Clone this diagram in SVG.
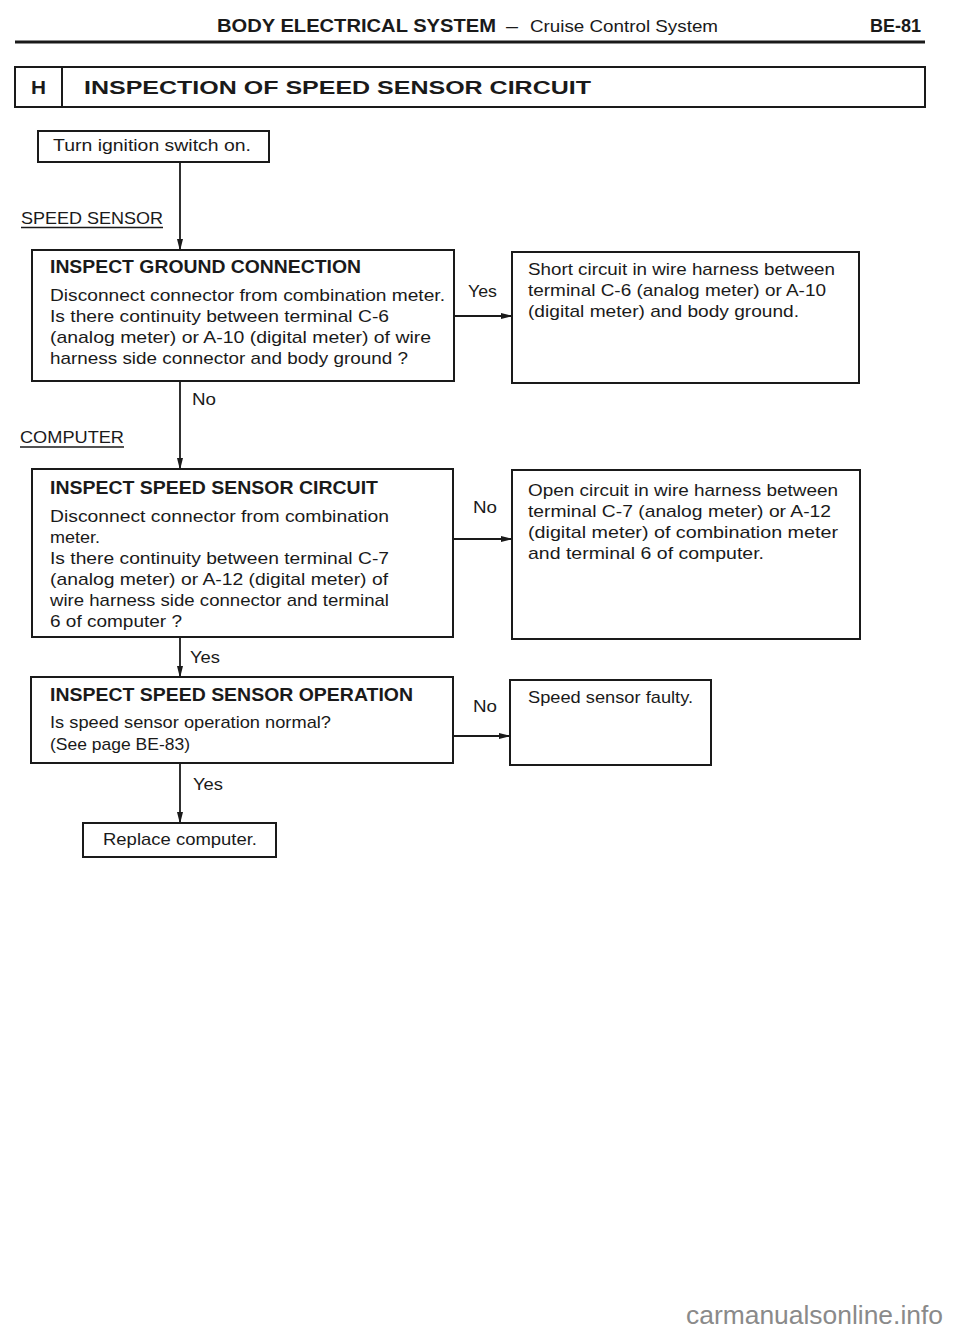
<svg xmlns="http://www.w3.org/2000/svg" width="960" height="1339" viewBox="0 0 960 1339">
<defs>
<marker id="ah" markerWidth="12" markerHeight="8" refX="11" refY="4" orient="auto" markerUnits="userSpaceOnUse">
<path d="M0,1 L12,4 L0,7 Z" fill="#1a1a1a"/>
</marker>
<style>
.box{fill:#fff;stroke:#1a1a1a;stroke-width:2}
.t{font-family:"Liberation Sans",Arial,sans-serif;font-size:17px;fill:#1a1a1a}
.b{font-family:"Liberation Sans",Arial,sans-serif;font-size:18px;font-weight:bold;fill:#1a1a1a}
.lbl{font-family:"Liberation Sans",Arial,sans-serif;font-size:17px;fill:#1a1a1a}
.conn{stroke:#1a1a1a;stroke-width:1.8;fill:none}
</style>
</defs>
<rect width="960" height="1339" fill="#fff"/>

<g id="header">
<text x="217" y="32" class="b" font-size="19" textLength="279" lengthAdjust="spacingAndGlyphs">BODY ELECTRICAL SYSTEM</text>
<text x="506" y="32" class="t" font-size="19" textLength="12" lengthAdjust="spacingAndGlyphs">–</text>
<text x="530" y="32" class="t" font-size="19" textLength="188" lengthAdjust="spacingAndGlyphs">Cruise Control System</text>
<text x="870" y="32" class="b" font-size="19" textLength="51" lengthAdjust="spacingAndGlyphs">BE-81</text>
<line x1="15" y1="42" x2="925" y2="42" stroke="#1a1a1a" stroke-width="3"/>
</g>

<g id="title">
<rect x="15" y="67" width="910" height="40" class="box"/>
<line x1="62" y1="67" x2="62" y2="107" stroke="#1a1a1a" stroke-width="2"/>
<text x="31" y="94" class="b" font-size="22" textLength="15" lengthAdjust="spacingAndGlyphs">H</text>
<text x="84" y="94" class="b" font-size="22" textLength="507" lengthAdjust="spacingAndGlyphs">INSPECTION OF SPEED SENSOR CIRCUIT</text>
</g>

<g id="section-labels">
<text x="21" y="224" class="t" textLength="142" lengthAdjust="spacingAndGlyphs">SPEED SENSOR</text>
<line x1="21" y1="227.5" x2="163" y2="227.5" stroke="#1a1a1a" stroke-width="1.3"/>
<text x="20" y="443" class="t" textLength="104" lengthAdjust="spacingAndGlyphs">COMPUTER</text>
<line x1="20" y1="447" x2="124" y2="447" stroke="#1a1a1a" stroke-width="1.3"/>
</g>

<g id="connectors">
<line x1="180" y1="162" x2="180" y2="250" class="conn" marker-end="url(#ah)"/>
<line x1="180" y1="381" x2="180" y2="469" class="conn" marker-end="url(#ah)"/>
<line x1="180" y1="637" x2="180" y2="677" class="conn" marker-end="url(#ah)"/>
<line x1="180" y1="763" x2="180" y2="823" class="conn" marker-end="url(#ah)"/>
<line x1="454" y1="316" x2="512" y2="316" class="conn" marker-end="url(#ah)"/>
<line x1="453" y1="539" x2="512" y2="539" class="conn" marker-end="url(#ah)"/>
<line x1="453" y1="736" x2="510" y2="736" class="conn" marker-end="url(#ah)"/>
<text x="468" y="297" class="lbl" textLength="29" lengthAdjust="spacingAndGlyphs">Yes</text>
<text x="192" y="405" class="lbl" textLength="24" lengthAdjust="spacingAndGlyphs">No</text>
<text x="473" y="513" class="lbl" textLength="24" lengthAdjust="spacingAndGlyphs">No</text>
<text x="190" y="663" class="lbl" textLength="30" lengthAdjust="spacingAndGlyphs">Yes</text>
<text x="473" y="712" class="lbl" textLength="24" lengthAdjust="spacingAndGlyphs">No</text>
<text x="193" y="790" class="lbl" textLength="30" lengthAdjust="spacingAndGlyphs">Yes</text>
</g>

<g id="n-start">
<rect x="38" y="131" width="231" height="31" class="box"/>
<text x="53" y="151" class="t" textLength="198" lengthAdjust="spacingAndGlyphs">Turn ignition switch on.</text>
</g>

<g id="n-ground">
<rect x="32" y="250" width="422" height="131" class="box"/>
<text x="50" y="273" class="b" textLength="311" lengthAdjust="spacingAndGlyphs">INSPECT GROUND CONNECTION</text>
<text x="50" y="301" class="t" textLength="395" lengthAdjust="spacingAndGlyphs">Disconnect connector from combination meter.</text>
<text x="50" y="322" class="t" textLength="339" lengthAdjust="spacingAndGlyphs">Is there continuity between terminal C-6</text>
<text x="50" y="343" class="t" textLength="381" lengthAdjust="spacingAndGlyphs">(analog meter) or A-10 (digital meter) of wire</text>
<text x="50" y="364" class="t" textLength="358" lengthAdjust="spacingAndGlyphs">harness side connector and body ground ?</text>
</g>

<g id="n-short">
<rect x="512" y="252" width="347" height="131" class="box"/>
<text x="528" y="275" class="t" textLength="307" lengthAdjust="spacingAndGlyphs">Short circuit in wire harness between</text>
<text x="528" y="296" class="t" textLength="298" lengthAdjust="spacingAndGlyphs">terminal C-6 (analog meter) or A-10</text>
<text x="528" y="317" class="t" textLength="271" lengthAdjust="spacingAndGlyphs">(digital meter) and body ground.</text>
</g>

<g id="n-circuit">
<rect x="32" y="469" width="421" height="168" class="box"/>
<text x="50" y="494" class="b" textLength="328" lengthAdjust="spacingAndGlyphs">INSPECT SPEED SENSOR CIRCUIT</text>
<text x="50" y="522" class="t" textLength="339" lengthAdjust="spacingAndGlyphs">Disconnect connector from combination</text>
<text x="50" y="543" class="t" textLength="50" lengthAdjust="spacingAndGlyphs">meter.</text>
<text x="50" y="564" class="t" textLength="339" lengthAdjust="spacingAndGlyphs">Is there continuity between terminal C-7</text>
<text x="50" y="585" class="t" textLength="338" lengthAdjust="spacingAndGlyphs">(analog meter) or A-12 (digital meter) of</text>
<text x="50" y="606" class="t" textLength="339" lengthAdjust="spacingAndGlyphs">wire harness side connector and terminal</text>
<text x="50" y="627" class="t" textLength="132" lengthAdjust="spacingAndGlyphs">6 of computer ?</text>
</g>

<g id="n-open">
<rect x="512" y="470" width="348" height="169" class="box"/>
<text x="528" y="496" class="t" textLength="310" lengthAdjust="spacingAndGlyphs">Open circuit in wire harness between</text>
<text x="528" y="517" class="t" textLength="303" lengthAdjust="spacingAndGlyphs">terminal C-7 (analog meter) or A-12</text>
<text x="528" y="538" class="t" textLength="310" lengthAdjust="spacingAndGlyphs">(digital meter) of combination meter</text>
<text x="528" y="559" class="t" textLength="236" lengthAdjust="spacingAndGlyphs">and terminal 6 of computer.</text>
</g>

<g id="n-operation">
<rect x="31" y="677" width="422" height="86" class="box"/>
<text x="50" y="701" class="b" textLength="363" lengthAdjust="spacingAndGlyphs">INSPECT SPEED SENSOR OPERATION</text>
<text x="50" y="728" class="t" textLength="281" lengthAdjust="spacingAndGlyphs">Is speed sensor operation normal?</text>
<text x="50" y="750" class="t" textLength="140" lengthAdjust="spacingAndGlyphs">(See page BE-83)</text>
</g>

<g id="n-faulty">
<rect x="510" y="680" width="201" height="85" class="box"/>
<text x="528" y="703" class="t" textLength="165" lengthAdjust="spacingAndGlyphs">Speed sensor faulty.</text>
</g>

<g id="n-replace">
<rect x="83" y="823" width="193" height="34" class="box"/>
<text x="103" y="845" class="t" textLength="154" lengthAdjust="spacingAndGlyphs">Replace computer.</text>
</g>

<text x="686" y="1324" font-family="'Liberation Sans',Arial,sans-serif" font-size="25" fill="#8a8a8a" textLength="257" lengthAdjust="spacingAndGlyphs">carmanualsonline.info</text>
</svg>
